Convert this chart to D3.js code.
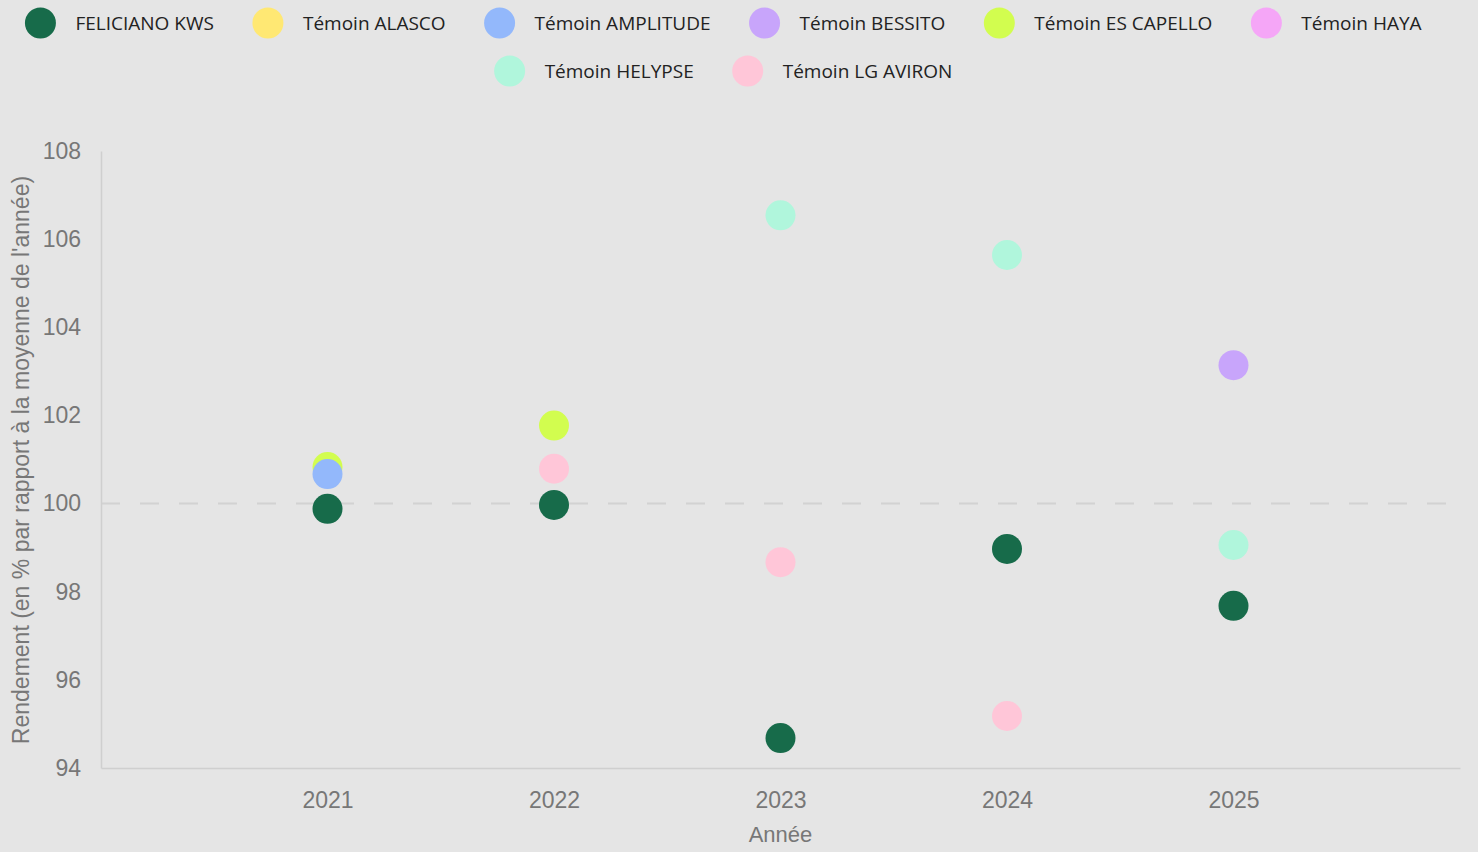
<!DOCTYPE html>
<html><head><meta charset="utf-8">
<script src="https://cdn.jsdelivr.net/npm/d3@7"></script>
<style>
html,body{margin:0;padding:0;background:#e5e5e5;}
svg{display:block;}
</style></head>
<body>
<svg id="chart" width="1478" height="852"></svg>
<script>
const years = [2021, 2022, 2023, 2024, 2025];
const seriesNames = ["FELICIANO KWS","Témoin ALASCO","Témoin AMPLITUDE","Témoin BESSITO","Témoin ES CAPELLO","Témoin HAYA","Témoin HELYPSE","Témoin LG AVIRON"];
const seriesColors = ["#176b4a","#ffe873","#93b8fb","#c8a5fb","#d2fd4f","#f5a6f7","#b0f6dc","#ffc6d8"];
const felicianoKws = [99.88, 99.97, 94.68, 98.97, 97.68];
const temoinAlasco = [null, null, null, null, null];
const temoinAmplitude = [100.67, null, null, null, null];
const temoinBessito = [null, null, null, null, 103.14];
const temoinEsCapello = [100.83, 101.77, null, null, null];
const temoinHaya = [null, null, null, null, null];
const temoinHelypse = [null, null, 106.54, 105.64, 99.06];
const temoinLgAviron = [null, 100.79, 98.67, 95.18, null];
const seriesValues = [felicianoKws, temoinAlasco, temoinAmplitude, temoinBessito, temoinEsCapello, temoinHaya, temoinHelypse, temoinLgAviron];
const yTicks = [94, 96, 98, 100, 102, 104, 106, 108];
const referenceValue = 100;
const xTitle = "Année";
const yTitle = "Rendement (en % par rapport à la moyenne de l'année)";

const svg = d3.select("#chart");
const W = 1478, H = 852;
const m = {left: 101, right: 18, top: 151, bottom: 84};

const x = d3.scaleLinear().domain([2020, 2026]).range([m.left, W - m.right]);
const y = d3.scaleLinear().domain([94, 108]).range([H - m.bottom, m.top]);

// reference line
svg.append("line")
  .attr("x1", m.left).attr("x2", W - m.right)
  .attr("y1", y(referenceValue)).attr("y2", y(referenceValue))
  .attr("stroke", "#d2d2d2").attr("stroke-width", 2).attr("stroke-dasharray", "19 20");

// axes
const yAxis = svg.append("g").attr("transform", `translate(${m.left},0)`)
  .call(d3.axisLeft(y).tickValues(yTicks).tickSize(0).tickPadding(20).tickFormat(d3.format("d")));
const xAxis = svg.append("g").attr("transform", `translate(0,${H - m.bottom})`)
  .call(d3.axisBottom(x).tickValues(years).tickSize(0).tickPadding(24).tickFormat(d3.format("d")));
[yAxis, xAxis].forEach(g => {
  g.select(".domain").attr("stroke", "#cfcfcf").attr("stroke-width", 1.5);
  g.selectAll("text").attr("fill", "#777").style("font-family", "'Liberation Sans', Arial, sans-serif").style("font-size", "23px");
});

// axis titles
svg.append("text").text(xTitle)
  .attr("x", x(2023)).attr("y", 842).attr("text-anchor", "middle")
  .attr("fill", "#777").style("font-family", "'Liberation Sans', Arial, sans-serif").style("font-size", "22px");
svg.append("text").text(yTitle)
  .attr("transform", `translate(29,${(175 + 745) / 2}) rotate(-90)`)
  .attr("text-anchor", "middle")
  .attr("fill", "#777").style("font-family", "'Liberation Sans', Arial, sans-serif").style("font-size", "23px");

// points (first series on top)
const pts = svg.append("g");
for (let s = seriesNames.length - 1; s >= 0; s--) {
  const data = years.map((yr, i) => ({yr, v: seriesValues[s][i]})).filter(d => d.v != null);
  pts.selectAll(null).data(data).enter().append("circle")
    .attr("cx", d => x(d.yr)).attr("cy", d => y(d.v)).attr("r", 15)
    .attr("fill", seriesColors[s]);
}

// legend (flow layout, centered)
const leg = svg.append("g");
const itemGroups = seriesNames.map((name, i) => {
  const g = leg.append("g");
  g.append("circle").attr("cx", 15).attr("cy", 0).attr("r", 15.5).attr("fill", seriesColors[i]);
  g.append("text").text(name).attr("x", 50).attr("y", 0).attr("dy", "0.35em")
    .attr("fill", "#222").style("font-family", "'Open Sans', sans-serif").style("font-size", "19px");
  const w = 50 + g.select("text").node().getComputedTextLength() + 39;
  return {g, w};
});
const maxRow = 1455;
const rows = [[]];
let cur = 0;
itemGroups.forEach(it => {
  if (cur + it.w > maxRow && rows[rows.length - 1].length) { rows.push([]); cur = 0; }
  rows[rows.length - 1].push(it); cur += it.w;
});
rows.forEach((row, r) => {
  const total = d3.sum(row, d => d.w);
  let xx = 743 - total / 2;
  row.forEach(it => {
    it.g.attr("transform", `translate(${xx},${23 + r * 48})`);
    xx += it.w;
  });
});
</script>
</body></html>
